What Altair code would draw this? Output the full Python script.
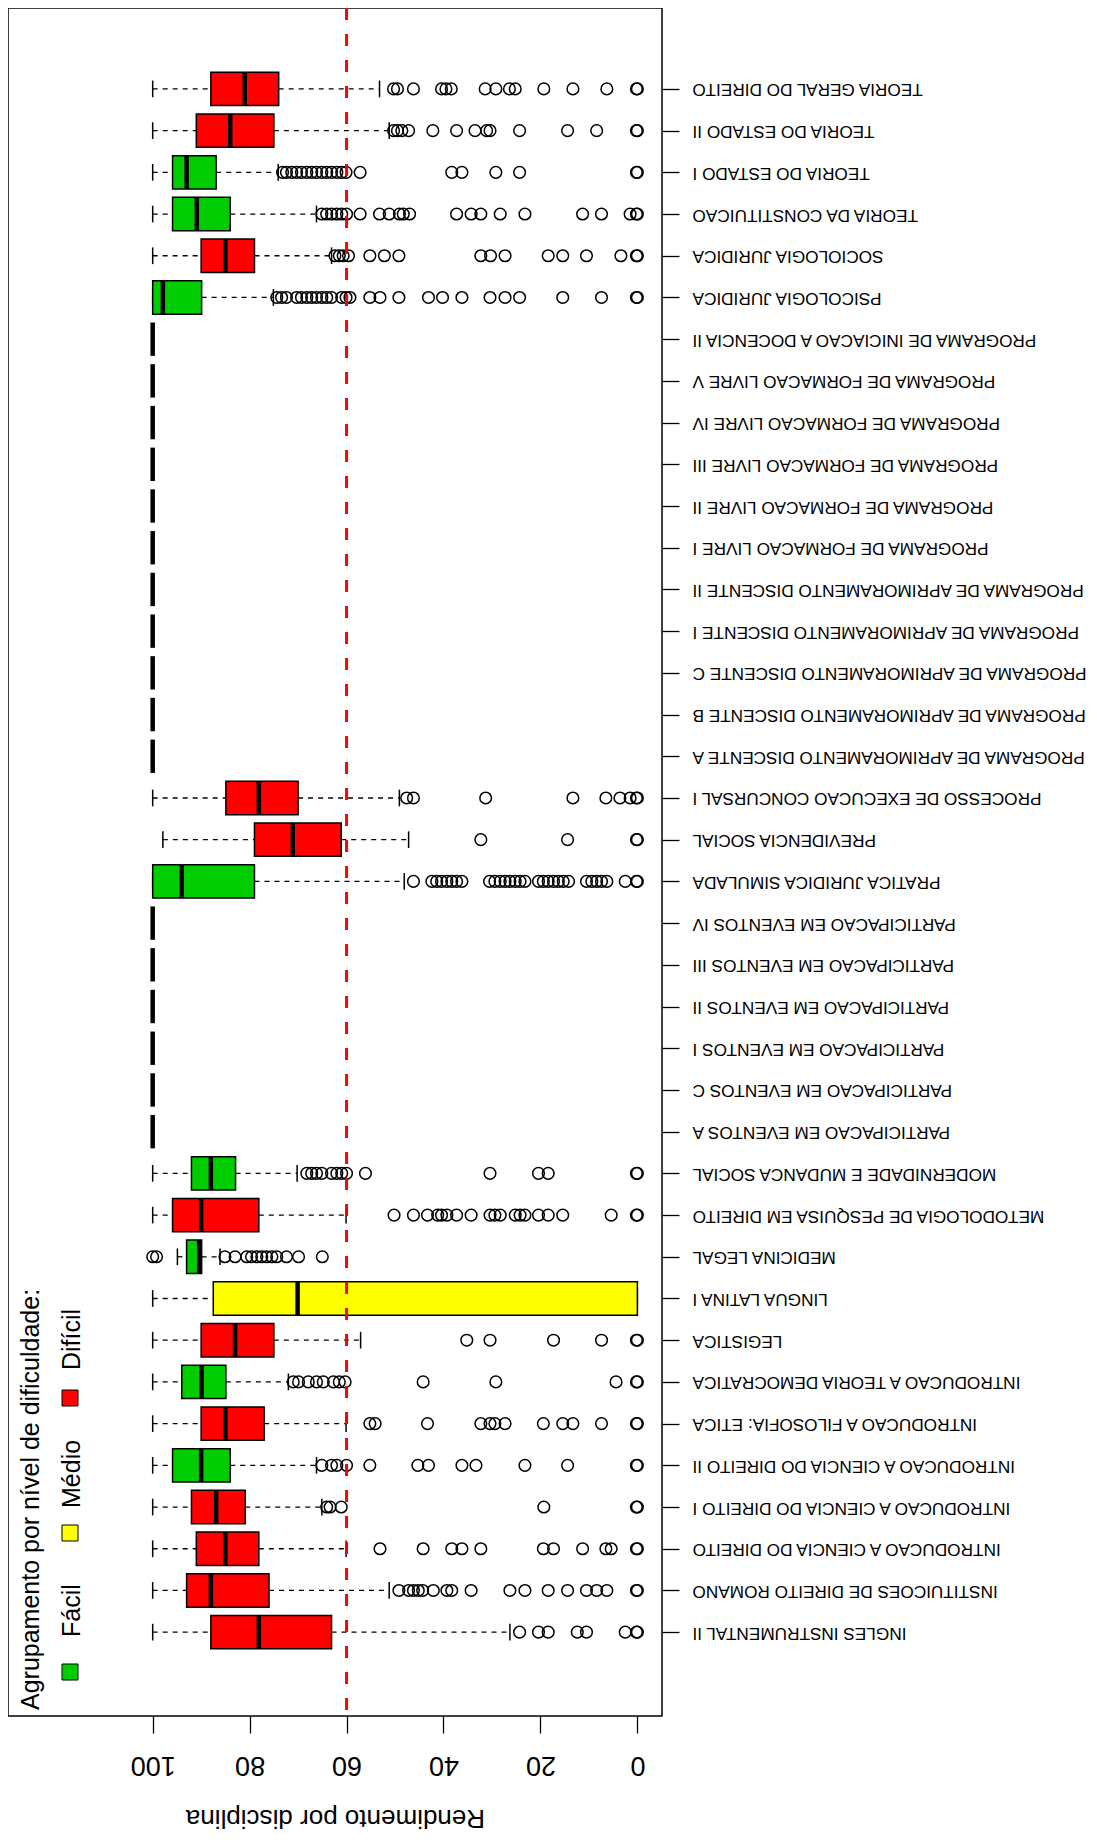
import json
import altair as alt
import pandas as pd

# ---------------- data (top row first) ----------------
names = [
    "TEORIA GERAL DO DIREITO", "TEORIA DO ESTADO II", "TEORIA DO ESTADO I",
    "TEORIA DA CONSTITUICAO", "SOCIOLOGIA JURIDICA", "PSICOLOGIA JURIDICA",
    "PROGRAMA DE INICIACAO A DOCENCIA II", "PROGRAMA DE FORMACAO LIVRE V",
    "PROGRAMA DE FORMACAO LIVRE IV", "PROGRAMA DE FORMACAO LIVRE III",
    "PROGRAMA DE FORMACAO LIVRE II", "PROGRAMA DE FORMACAO LIVRE I",
    "PROGRAMA DE APRIMORAMENTO DISCENTE II", "PROGRAMA DE APRIMORAMENTO DISCENTE I",
    "PROGRAMA DE APRIMORAMENTO DISCENTE C", "PROGRAMA DE APRIMORAMENTO DISCENTE B",
    "PROGRAMA DE APRIMORAMENTO DISCENTE A", "PROCESSO DE EXECUCAO CONCURSAL I",
    "PREVIDENCIA SOCIAL", "PRATICA JURIDICA SIMULADA",
    "PARTICIPACAO EM EVENTOS IV", "PARTICIPACAO EM EVENTOS III",
    "PARTICIPACAO EM EVENTOS II", "PARTICIPACAO EM EVENTOS I",
    "PARTICIPACAO EM EVENTOS C", "PARTICIPACAO EM EVENTOS A",
    "MODERNIDADE E MUDANCA SOCIAL", "METODOLOGIA DE PESQUISA EM DIREITO",
    "MEDICINA LEGAL", "LINGUA LATINA I", "LEGISTICA",
    "INTRODUCAO A TEORIA DEMOCRATICA", "INTRODUCAO A FILOSOFIA: ETICA",
    "INTRODUCAO A CIENCIA DO DIREITO II", "INTRODUCAO A CIENCIA DO DIREITO I",
    "INTRODUCAO A CIENCIA DO DIREITO", "INSTITUICOES DE DIREITO ROMANO",
    "INGLES INSTRUMENTAL II",
]

F, M, D, N = "Fácil", "Médio", "Difícil", ""
groups = [D, D, F, F, D, F,
          N, N, N, N, N, N, N, N, N, N, N,
          D, D, F,
          N, N, N, N, N, N,
          F, D, F, M, D, F, D, F, D, D, D, D]

FL = 100
w_hi = [100, 100, 100, 100, 100, 100] + [FL] * 11 + [100, 97.9, 100] + [FL] * 6 + \
       [100, 100, 94.9, 100, 100, 100, 100, 100, 100, 100, 100, 100]
q_hi = [88.0, 91.0, 95.9, 95.9, 90.0, 100] + [FL] * 11 + [84.9, 79.0, 100] + [FL] * 6 + \
       [92.0, 95.9, 93.0, 87.5, 90.0, 94.0, 90.0, 95.9, 92.0, 91.0, 93.0, 88.0]
med = [81.0, 84.0, 93.0, 90.9, 85.0, 97.9] + [FL] * 11 + [78.1, 71.1, 94.0] + [FL] * 6 + \
      [88.0, 90.0, 90.4, 70.1, 83.0, 89.9, 85.0, 90.0, 86.9, 85.0, 88.0, 78.1]
q_lo = [74.0, 75.0, 86.9, 84.0, 79.0, 89.9] + [FL] * 11 + [70.0, 61.1, 79.0] + [FL] * 6 + \
       [82.9, 78.1, 89.9, 0.0, 75.0, 84.9, 77.0, 84.0, 80.9, 78.1, 76.0, 63.1]
w_lo = [53.2, 51.2, 74.1, 66.2, 63.1, 75.1] + [FL] * 11 + [49.1, 47.2, 48.1] + [FL] * 6 + \
       [70.2, 60.1, 86.1, 0.0, 57.1, 72.0, 60.1, 66.2, 65.1, 60.1, 51.2, 26.3]

outliers = [
    [50.3, 49.5, 46.2, 40.4, 39.5, 38.4, 31.4, 29.2, 26.4, 25.2, 19.3, 13.3, 6.3, 0.2, 0],
    [50.3, 49.5, 48.6, 47.2, 42.2, 37.3, 33.5, 31.1, 30.4, 24.3, 14.4, 8.4, 0.2, 0],
    [73.2, 72.4, 71.3, 70.3, 69.3, 68.2, 67.2, 66.2, 65.1, 64.1, 63.1, 62.0, 61.0, 60.1,
     57.2, 38.3, 36.2, 29.2, 24.3, 0.2, 0],
    [65.1, 64.1, 63.1, 62.0, 61.0, 60.0, 57.2, 53.2, 51.2, 49.1, 48.3, 47.0, 37.3, 34.3,
     32.3, 28.3, 23.2, 11.3, 7.4, 1.5, 0.2, 0],
    [62.4, 61.5, 60.7, 59.6, 55.2, 52.2, 49.2, 32.3, 30.3, 27.3, 18.4, 15.4, 10.5, 3.4, 0.2, 0],
    [74.4, 73.4, 72.4, 70.3, 69.3, 68.2, 67.2, 66.2, 65.1, 64.1, 63.1, 61.0, 60.1, 59.3,
     55.2, 53.1, 49.2, 43.1, 40.2, 36.2, 30.4, 27.3, 24.3, 15.4, 7.4, 0.2, 0],
    [], [], [], [], [], [], [], [], [], [], [],
    [47.6, 46.2, 31.3, 13.3, 6.5, 3.6, 1.5, 0.2, 0],
    [32.3, 14.4, 0.2, 0],
    [46.2, 42.4, 41.4, 40.4, 39.3, 38.3, 37.3, 36.2, 30.5, 29.4, 28.3, 27.3, 26.3, 25.2,
     24.2, 23.2, 20.4, 19.4, 18.4, 17.3, 16.3, 15.3, 14.2, 10.5, 9.4, 8.4, 7.4, 6.3, 2.5, 0.2, 0],
    [], [], [], [], [], [],
    [68.2, 67.2, 66.2, 65.1, 63.1, 62.0, 61.0, 60.0, 56.1, 30.4, 20.4, 18.4, 0.2, 0],
    [50.2, 46.2, 43.3, 41.2, 40.4, 39.3, 37.3, 34.3, 30.4, 29.4, 28.3, 25.2, 24.2, 23.2,
     20.4, 18.4, 15.4, 5.4, 0.2, 0],
    [100, 99.2, 85.1, 83.0, 80.6, 79.6, 78.5, 77.5, 76.5, 75.4, 74.4, 72.4, 69.9, 65.0],
    [],
    [35.2, 30.4, 17.3, 7.4, 0.2, 0],
    [71.0, 69.9, 67.9, 66.2, 64.8, 62.7, 61.5, 60.3, 44.2, 29.2, 4.4, 0.2, 0],
    [55.2, 54.1, 43.3, 32.3, 30.4, 29.4, 27.3, 19.4, 15.4, 13.3, 7.4, 0.2, 0],
    [65.1, 63.1, 62.0, 60.0, 55.2, 45.3, 43.1, 36.2, 33.3, 23.2, 14.4, 0.2, 0],
    [64.1, 63.4, 61.1, 19.3, 0.2, 0],
    [53.1, 44.2, 38.3, 36.2, 32.3, 19.4, 17.3, 11.3, 6.5, 5.4, 0.2, 0],
    [49.2, 47.2, 46.2, 45.2, 44.3, 42.1, 39.3, 38.3, 34.3, 26.3, 23.2, 18.4, 14.4, 10.5,
     8.4, 6.3, 0.2, 0],
    [24.3, 20.4, 18.4, 12.4, 10.5, 2.5, 0.2, 0],
]

threshold = [60]
x_ticks = [0, 20, 40, 60, 80, 100]
x_title = "Rendimento por disciplina"
legend_title = "Agrupamento por nível de dificuldade:"
legend_labels = [F, M, D]
legend_colors = ["#00CC00", "#FFFF00", "#FF0000"]

# ---------------- tables ----------------
n = len(names)
rows = []
for i in range(n):
    p = n - i
    rows.append(dict(name=names[i], grp=groups[i], pos=p, top=p + 0.4, bot=p - 0.4,
                     ctop=p + 0.2, cbot=p - 0.2, w_hi=w_hi[i], q_hi=q_hi[i],
                     med=med[i], q_lo=q_lo[i], w_lo=w_lo[i]))
df = pd.DataFrame(rows)
boxes = df[df.grp != ""]

whisk = pd.concat([
    df[["pos"]].assign(a=df.w_hi, b=df.q_hi),
    df[["pos"]].assign(a=df.q_lo, b=df.w_lo),
])
caps = pd.concat([
    df[["pos", "ctop", "cbot"]].assign(v=df.w_hi),
    df[["pos", "ctop", "cbot"]].assign(v=df.w_lo),
])
out = pd.DataFrame([dict(pos=n - i, v=v) for i in range(n) for v in outliers[i]])
thr = pd.DataFrame({"v": threshold})

W, H = 654, 1708
FONT = "Liberation Sans"

xs = alt.Scale(domain=[-5.08, 129.85], reverse=True, nice=False, zero=False)
ys = alt.Scale(domain=[-1.01, 39.94], nice=False, zero=False)
xaxis = alt.Axis(values=x_ticks, title=x_title, grid=False, domain=False,
                 tickSize=17, tickColor="black", tickWidth=1.3,
                 labelAngle=180, labelAlign="center", labelBaseline="middle",
                 labelPadding=31, labelFontSize=27, labelColor="black", labelFont=FONT,
                 titleAngle=180, titleBaseline="middle", titleAlign="center",
                 titleY=101, titleFontSize=26, titleFontWeight="normal",
                 titleColor="black", titleFont=FONT)
labels_js = json.dumps(names, ensure_ascii=False)
yaxis = alt.Axis(values=list(range(1, n + 1)), title=None, grid=False, domain=False,
                 orient="right", tickSize=17, tickColor="black", tickWidth=1.3,
                 labelExpr=f"{labels_js}[{n} - datum.value]",
                 labelAngle=180, labelAlign="right", labelBaseline="middle",
                 labelPadding=13, labelFontSize=17.2, labelColor="black",
                 labelFont=FONT, labelLimit=1000, labelOverlap=False, labelFlush=False)


def X(f):
    return alt.X(f, type="quantitative", scale=xs, axis=xaxis)


def Y(f):
    return alt.Y(f, type="quantitative", scale=ys, axis=yaxis)


color = alt.Color("grp:N", scale=alt.Scale(domain=legend_labels, range=legend_colors),
                  legend=None)

whisk_layer = alt.Chart(whisk).mark_rule(color="black", strokeWidth=1.3,
                                         strokeDash=[5, 5]).encode(
    x=X("a"), x2="b", y=Y("pos"))
cap_layer = alt.Chart(caps).mark_rule(color="black", strokeWidth=1.5).encode(
    x=X("v"), y=Y("ctop"), y2="cbot")
box_layer = alt.Chart(boxes).mark_rect(stroke="black", strokeWidth=1.5).encode(
    x=X("q_hi"), x2="q_lo", y=Y("top"), y2="bot", color=color)
med_layer = alt.Chart(df).mark_rule(color="black", strokeWidth=4.5).encode(
    x=X("med"), y=Y("top"), y2="bot")
out_layer = alt.Chart(out).mark_point(shape="circle", filled=False, color="black",
                                      strokeWidth=1.5, size=135, opacity=1).encode(
    x=X("v"), y=Y("pos"))
thr_layer = alt.Chart(thr).mark_rule(color="#FF0000", strokeWidth=3,
                                     strokeDash=[12, 14]).encode(
    x=X("v"), y=alt.value(0), y2=alt.value(H))

# legend (inside plot, rotated like the rest of the picture)
leg_layers = [
    alt.Chart(pd.DataFrame({"t": [legend_title]})).mark_text(
        angle=270, align="left", baseline="alphabetic", font=FONT, fontSize=25,
        color="black").encode(text="t:N", x=alt.value(30.6), y=alt.value(1702))
]
label_y = [1629, 1500, 1362]
square_y = [1664, 1525, 1390]
for lab, col, ly, sy in zip(legend_labels, legend_colors, label_y, square_y):
    leg_layers.append(alt.Chart(pd.DataFrame({"t": [lab]})).mark_text(
        angle=270, align="left", baseline="alphabetic", font=FONT, fontSize=25,
        color="black").encode(text="t:N", x=alt.value(71.6), y=alt.value(ly)))
    leg_layers.append(alt.Chart(pd.DataFrame({"t": [lab]})).mark_square(
        size=256, fill=col, stroke="black", strokeWidth=1, opacity=1).encode(
        x=alt.value(62), y=alt.value(sy)))

chart = alt.layer(
    whisk_layer, cap_layer, box_layer, med_layer, out_layer, thr_layer, *leg_layers
).properties(
    width=W, height=H,
    padding={"left": 0, "top": 0, "right": 427, "bottom": 118},
    autosize=alt.AutoSizeParams(type="none"),
).configure(font=FONT).configure_view(stroke="black", strokeWidth=1.5)

chart.save("out.html", embed_options={"renderer": "svg", "actions": False})
